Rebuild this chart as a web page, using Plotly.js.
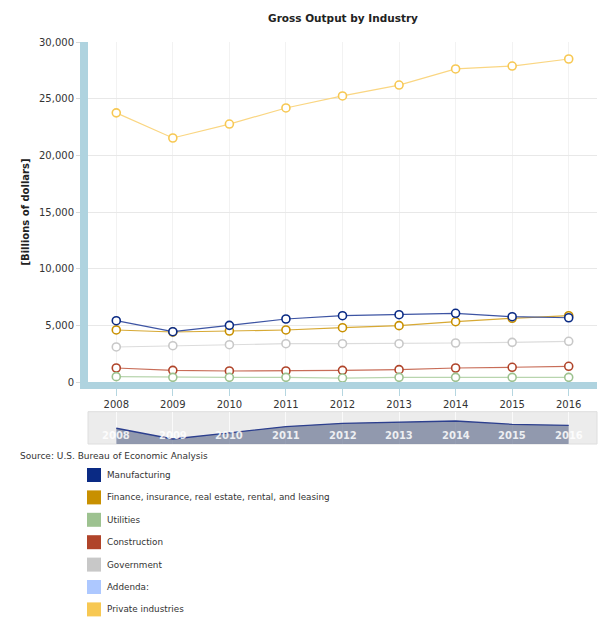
<!DOCTYPE html>
<html><head><meta charset="utf-8">
<script src="https://cdn.plot.ly/plotly-3.0.1.min.js"></script>
<style>html,body{margin:0;padding:0;background:#fff}#chart{width:613px;height:640px}</style>
</head><body><div id="chart"></div>
<script>
const years = ['2008','2009','2010','2011','2012','2013','2014','2015','2016'];
const manufacturing = [5410, 4440, 5000, 5560, 5850, 5940, 6060, 5760, 5670];
const finance = [4590, 4410, 4500, 4590, 4790, 4970, 5320, 5620, 5850];
const utilities = [470, 410, 410, 410, 350, 410, 410, 410, 410];
const construction = [1235, 1030, 970, 970, 1030, 1090, 1235, 1300, 1385];
const government = [3090, 3200, 3290, 3380, 3380, 3380, 3440, 3500, 3590];
const addenda = [null, null, null, null, null, null, null, null, null];
const privateInd = [23750, 21530, 22760, 24180, 25240, 26200, 27620, 27880, 28500];

const seriesNames = ['Manufacturing','Finance, insurance, real estate, rental, and leasing','Utilities','Construction','Government','Addenda:','Private industries'];
const seriesData = [manufacturing, finance, utilities, construction, government, addenda, privateInd];
const markerColors = ['#0a2a84','#c89000','#9dc290','#b0442a','#c8c8c8','#adc8ff','#f7c853'];
const lineColors = ['#3d54a3','#d7a934','#b8d5ae','#c86d58','#dcdcdc','#c5d7ff','#fad682'];

const fontFam = '"DejaVu Sans", Verdana, sans-serif';
const traces = [];
const order = [6,4,3,2,5,1,0];
order.forEach(i => {
  traces.push({
    type:'scatter', mode:'lines+markers', x: years, y: seriesData[i], name: seriesNames[i],
    xaxis:'x', yaxis:'y',
    line:{color: lineColors[i], width:1.2},
    marker:{symbol:'circle', size:8, color:'#ffffff', line:{color: markerColors[i], width:1.6}},
    hoverinfo:'skip', showlegend:false, cliponaxis:false
  });
});
// navigator
traces.push({
  type:'scatter', mode:'lines', x: years, y: manufacturing, xaxis:'x2', yaxis:'y2',
  fill:'tozeroy', fillcolor:'rgba(110,120,150,0.72)', line:{color:'#2c3f8e', width:1.3},
  hoverinfo:'skip', showlegend:false
});

const H = 402, W = 509, left0 = 88;
const py = p => (444 - p) / H;
const px = p => (p - left0) / W;

const shapes = [];
const annotations = [];
shapes.push({type:'rect', xref:'x2 domain', yref:'y2 domain', x0:0, x1:1, y0:0, y1:1,
  fillcolor:'#ececec', line:{color:'#dedede', width:1}, layer:'below'});
years.forEach((y, i) => {
  annotations.push({xref:'x2', yref:'paper', x:i, y:py(435.5), text:'<b>' + y + '</b>', showarrow:false,
    font:{family:fontFam, size:10, color:'rgba(255,255,255,0.85)'}, xanchor:'center', yanchor:'middle'});
});
annotations.push({xref:'paper', yref:'paper', x:px(18), y:py(456), text:'Source: U.S. Bureau of Economic Analysis',
  showarrow:false, xanchor:'left', yanchor:'middle', font:{family:fontFam, size:9, color:'#333333'}});
seriesNames.forEach((n, i) => {
  const cy = 475 + i * 22.4;
  shapes.push({type:'rect', xref:'paper', yref:'paper', x0:px(87), x1:px(101), y0:py(cy+7), y1:py(cy-7),
    fillcolor: markerColors[i], line:{width:0}});
  annotations.push({xref:'paper', yref:'paper', x:px(105), y:py(cy), text:n, showarrow:false,
    xanchor:'left', yanchor:'middle', font:{family:fontFam, size:8.8, color:'#333333'}});
});

const layout = {
  width:613, height:640,
  margin:{l:88, r:16, t:42, b:196},
  paper_bgcolor:'#ffffff', plot_bgcolor:'#ffffff',
  title:{text:'<b>Gross Output by Industry</b>', x:343/613, xanchor:'center', y:1-18/640, yanchor:'middle',
    font:{family:fontFam, size:10.5, color:'#222222'}},
  showlegend:false,
  xaxis:{type:'category', range:[-0.5, 8.5], domain:[0,1], anchor:'y',
    showgrid:true, gridcolor:'#f2f2f2', gridwidth:1,
    showline:true, linecolor:'#afd3df', linewidth:7,
    ticks:'outside', ticklen:7, tickcolor:'#b5d6e0', tickwidth:1,
    tickfont:{family:fontFam, size:10, color:'#333333'}, zeroline:false, fixedrange:true},
  yaxis:{range:[0, 30000], domain:[py(382), 1], anchor:'x', tickvals:[0,5000,10000,15000,20000,25000,30000],
    tickformat:',d', showgrid:true, gridcolor:'#e8e8e8', gridwidth:1,
    showline:true, linecolor:'#afd3df', linewidth:8,
    ticks:'outside', ticklen:4, tickcolor:'#d8d8d8',
    tickfont:{family:fontFam, size:10, color:'#333333'}, zeroline:false,
    title:{text:'<b>[Billions of dollars]</b>', standoff:11, font:{family:fontFam, size:10, color:'#222222'}}},
  xaxis2:{type:'category', range:[-0.5, 8.5], domain:[0,1], anchor:'y2', showticklabels:false,
    showgrid:true, gridcolor:'#fafafa', showline:false, zeroline:false, ticks:''},
  yaxis2:{range:[3990, 6900], domain:[0, py(411.7)], anchor:'x2', showticklabels:false,
    showgrid:false, zeroline:false, showline:false, ticks:''},
  shapes: shapes, annotations: annotations
};
Plotly.newPlot('chart', traces, layout, {staticPlot:true, displayModeBar:false});
</script></body></html>
